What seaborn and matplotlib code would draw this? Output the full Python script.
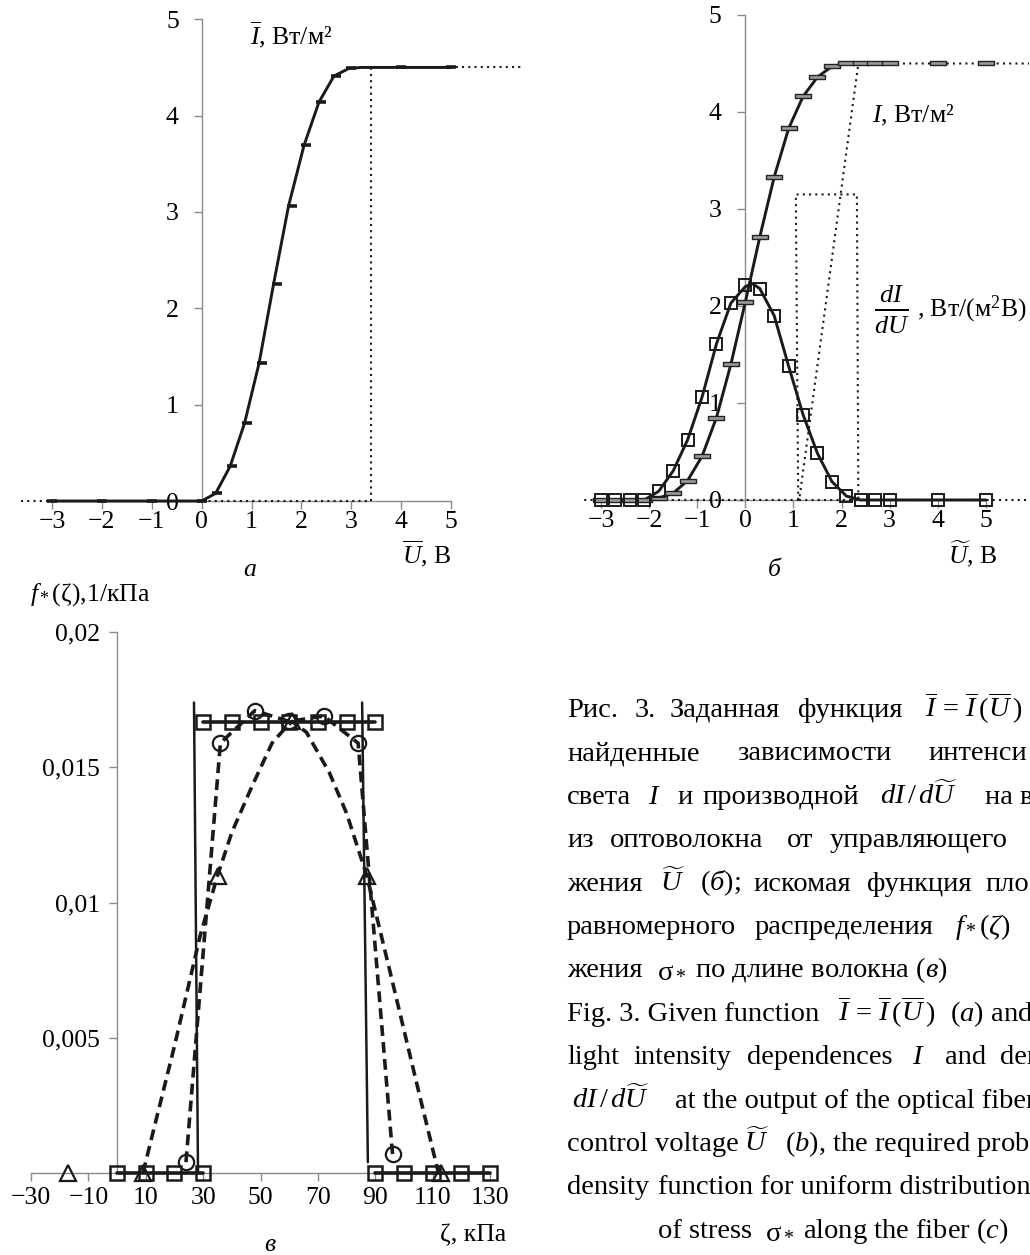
import matplotlib
matplotlib.use("Agg")
import matplotlib.pyplot as plt
import seaborn as sns
from matplotlib.path import Path

# ---- panel a : given function I(U)
ua = [-3, -2, -1, 0, 0.3, 0.6, 0.9, 1.2, 1.5, 1.8, 2.1, 2.4, 2.7, 3.0, 4, 5]
ia = [0, 0, 0, 0, 0.08, 0.36, 0.81, 1.43, 2.25, 3.06, 3.69, 4.14, 4.41, 4.49, 4.5, 4.5]
line_ua = [-3, -1, 0, 0.28, 0.57, 0.86, 1.15, 1.44, 1.74, 2.05, 2.35, 2.65, 2.95, 3.2, 5]
line_ia = [0, 0, 0, 0.08, 0.36, 0.81, 1.43, 2.25, 3.06, 3.69, 4.14, 4.41, 4.49, 4.5, 4.5]
dot_ua = [-3.62, 3.4, 3.4, 6.4]
dot_ia = [0, 0, 4.5, 4.5]

# ---- panel b : found I and dI/dU
ub = [-3, -2.7, -2.4, -2.1, -1.8, -1.5, -1.2, -0.9, -0.6, -0.3, 0, 0.3, 0.6, 0.9,
      1.2, 1.5, 1.8, 2.1, 2.4, 2.7, 3.0, 4, 5]
ib = [0, 0, 0, 0, 0.02, 0.07, 0.2, 0.45, 0.85, 1.4, 2.04, 2.71, 3.33, 3.83,
      4.16, 4.36, 4.47, 4.5, 4.5, 4.5, 4.5, 4.5, 4.5]
didu = [0, 0, 0, 0, 0.09, 0.3, 0.62, 1.06, 1.61, 2.03, 2.22, 2.18, 1.9, 1.38,
        0.88, 0.48, 0.19, 0.04, 0, 0, 0, 0, 0]
line_ub_i = [-2.1, -1.8, -1.5, -1.2, -0.9, -0.6, -0.3, 0, 0.3, 0.6, 0.9, 1.2, 1.5, 1.8, 2.1, 3.1]
line_ib = [0, 0.02, 0.07, 0.2, 0.45, 0.85, 1.4, 2.04, 2.71, 3.33, 3.83, 4.16, 4.36, 4.47, 4.5, 4.5]
line_ub_d = [-2.1, -1.8, -1.5, -1.2, -0.9, -0.6, -0.3, 0, 0.15, 0.3, 0.6, 0.9, 1.2, 1.5, 1.8, 2.1, 2.4, 5]
line_db = [0, 0.09, 0.3, 0.62, 1.06, 1.61, 2.03, 2.2, 2.23, 2.18, 1.9, 1.38, 0.88, 0.48, 0.19, 0.04, 0, 0]
dot_ub = [-3.35, 1.12, 2.35, 5.9, 1.12, 5.9, 1.1, 1.05, 2.32, 2.35]
dot_b = [0, 0, 4.5, 4.5, 0, 0, 0, 3.15, 3.15, 0]
dot_seg = [0, 0, 0, 0, 1, 1, 2, 2, 2, 2]

# ---- panel c : density f*(zeta)
f_u = 1 / 60
sq_z = [0, 10, 20, 30, 30, 40, 50, 60, 70, 80, 90, 90, 100, 110, 120, 130]
sq_f = [0, 0, 0, 0, f_u, f_u, f_u, f_u, f_u, f_u, f_u, 0, 0, 0, 0, 0]
sq_seg = [0, 0, 0, 0, 1, 1, 1, 1, 1, 1, 1, 2, 2, 2, 2, 2]
edge_z = [28.2, 26.8, 85.4, 87.4]
edge_f = [0, 0.0174, 0.0174, 0.0004]
edge_seg = [0, 0, 1, 1]
circ_z = [24, 36, 48, 60, 72, 84, 96]
circ_f = [0.0004, 0.0159, 0.0171, 0.0167, 0.0169, 0.0159, 0.0007]
tri_z = [-17, 9, 35, 61, 87, 113]
tri_f = [0, 0, 0.011, 0.0167, 0.011, 0]
tri_curve_z = [9, 20, 29, 35, 40, 47, 54, 59, 61, 66, 74, 80, 87, 95, 104, 112]
tri_curve_f = [0, 0.0047, 0.0088, 0.011, 0.0126, 0.0143, 0.0159, 0.0165, 0.0167,
               0.0163, 0.0148, 0.0133, 0.011, 0.0075, 0.0035, 0]

sns.set_theme(style="white")
plt.rcParams["font.family"] = ["Liberation Serif", "DejaVu Serif"]
plt.rcParams["mathtext.fontset"] = "custom"
plt.rcParams["mathtext.rm"] = "Liberation Serif"
plt.rcParams["mathtext.it"] = "Liberation Serif:italic"
plt.rcParams["mathtext.bf"] = "Liberation Serif:bold"

W, H = 1030, 1255
fig = plt.figure(figsize=(W / 100, H / 100), dpi=100)
fig.patch.set_facecolor("white")


def box(left, top, right, bottom):
    return [left / W, 1 - bottom / H, (right - left) / W, (bottom - top) / H]


def ftext(x, y, s, size=18.5, **kw):
    kw.setdefault("va", "baseline")
    fig.text(x / W, 1 - y / H, s, fontsize=size, ha="left", color="black", **kw)


def style(ax, xb, yb, ypad, xpad):
    ax.set_facecolor("none")
    ax.grid(False)
    ax.spines["top"].set_visible(False)
    ax.spines["right"].set_visible(False)
    ax.spines["left"].set_position(("data", 0))
    ax.spines["bottom"].set_position(("data", 0))
    ax.spines["left"].set_bounds(*yb)
    ax.spines["bottom"].set_bounds(*xb)
    for s in ["left", "bottom"]:
        ax.spines[s].set_color("#8a8a8a")
        ax.spines[s].set_linewidth(1)
        ax.spines[s].set_zorder(0.5)
    ax.tick_params(axis="both", direction="out", length=6, width=1, color="#8a8a8a",
                   labelsize=18.5, labelcolor="black", bottom=True, left=True)
    ax.tick_params(axis="y", pad=ypad)
    ax.tick_params(axis="x", pad=xpad)
    ax.set_xlabel("")
    ax.set_ylabel("")


dotted = (0, (1, 2))

# ---------- panel a
ax_a = fig.add_axes(box(17.1, 0, 521, 512.6))
sns.lineplot(x=dot_ua, y=dot_ia, sort=False, estimator=None, color="k", lw=1.5,
             linestyle=dotted, ax=ax_a)
sns.lineplot(x=line_ua, y=line_ia, sort=False, estimator=None, color="k", lw=2.1, ax=ax_a)
sns.lineplot(x=ua, y=ia, sort=False, estimator=None, color="k", linestyle="none",
             marker="_", ms=7, mew=2.6, mec="k", ax=ax_a)
ax_a.set_xlim(-3.7, 6.4)
ax_a.set_ylim(-0.12, 5.2)
ax_a.set_xticks(range(-3, 6))
ax_a.set_yticks(range(0, 6))
style(ax_a, (-3, 5), (0, 5), 10.5, 1)

# ---------- panel b
ax_b = fig.add_axes(box(581.8, 5.3, 1029.1, 511.6))
sns.lineplot(x=dot_ub, y=dot_b, units=dot_seg, sort=False, estimator=None, color="k",
             lw=1.5, linestyle=dotted, ax=ax_b)
sns.lineplot(x=line_ub_i, y=line_ib, sort=False, estimator=None, color="k", lw=2.1, ax=ax_b)
sns.lineplot(x=line_ub_d, y=line_db, sort=False, estimator=None, color="k", lw=2.1, ax=ax_b)
bar = Path([(-1, -0.32), (1, -0.32), (1, 0.32), (-1, 0.32), (-1, -0.32)],
           [Path.MOVETO, Path.LINETO, Path.LINETO, Path.LINETO, Path.CLOSEPOLY])
sns.lineplot(x=ub, y=ib, sort=False, estimator=None, color="k", linestyle="none",
             marker=bar, ms=11, mfc="#9a9a9a", mec="#222222", mew=1, ax=ax_b)
sns.lineplot(x=ub, y=didu, sort=False, estimator=None, color="k", linestyle="none",
             marker="s", ms=8.5, mfc="none", mec="k", mew=1.4, ax=ax_b)
ax_b.set_xlim(-3.4, 5.9)
ax_b.set_ylim(-0.12, 5.1)
ax_b.set_xticks(range(-3, 6))
ax_b.set_yticks(range(0, 6))
style(ax_b, (-3, 5), (0, 5), 11, 1)

# ---------- panel c
ax_c = fig.add_axes(box(25.3, 616, 507.3, 1189.2))
sns.lineplot(x=edge_z, y=edge_f, units=edge_seg, sort=False, estimator=None, color="k",
             lw=1.8, ax=ax_c)
sns.lineplot(x=sq_z, y=sq_f, units=sq_seg, sort=False, estimator=None, color="k",
             lw=2.6, ax=ax_c)
sns.lineplot(x=sq_z, y=sq_f, sort=False, estimator=None, color="k", linestyle="none",
             marker="s", ms=10.5, mfc="none", mec="k", mew=1.8, ax=ax_c)
sns.lineplot(x=tri_curve_z, y=tri_curve_f, sort=False, estimator=None, color="k",
             lw=2.6, linestyle=(0, (3, 1.7)), ax=ax_c)
sns.lineplot(x=circ_z, y=circ_f, sort=False, estimator=None, color="k",
             lw=2.6, linestyle=(0, (3, 1.7)), ax=ax_c)
sns.lineplot(x=circ_z, y=circ_f, sort=False, estimator=None, color="k", linestyle="none",
             marker="o", ms=11, mfc="none", mec="k", mew=1.6, ax=ax_c)
sns.lineplot(x=tri_z, y=tri_f, sort=False, estimator=None, color="k", linestyle="none",
             marker="^", ms=11, mfc="none", mec="k", mew=1.6, ax=ax_c)
ax_c.set_xlim(-32, 136)
ax_c.set_ylim(-0.0006, 0.0206)
ax_c.set_xticks(range(-30, 131, 20))
ax_c.set_xticklabels([str(v).replace("-", "\u2212") for v in range(-30, 131, 20)])
ax_c.set_yticks([0.005, 0.01, 0.015, 0.02])
ax_c.set_yticklabels(["0,005", "0,01", "0,015", "0,02"])
style(ax_c, (-30, 130), (0, 0.02), 6.5, 4)

# ---------- axis captions
ftext(250, 44, r"$\overline{I}$, Вт/м²")
ftext(402, 563, r"$\overline{U}$, В")
ftext(243, 576, "а", style="italic")
ftext(872, 122, r"$I$, Вт/м²")
ftext(874, 309, r"$\frac{dI}{dU}$", size=27, va="center")
ftext(917, 316, ", Вт/(м$^2$В)")
ftext(948, 563, r"$\widetilde{U}$, В")
ftext(768, 576, "б", style="italic")
ftext(30, 601, r"$f_*$(ζ),1/кПа")
ftext(440, 1241, "ζ, кПа")
ftext(264, 1251, "в", style="italic")

# ---------- figure caption (cropped on the right like the source page)
given = r"$\overline{I}\,=\,\overline{I}\,(\overline{U}\,)$"
caption = [
    [(567, "Рис."), (635, "3."), (670, "Заданная"), (798, "функция"), (925, given)],
    [(567, "найденные"), (737, "зависимости"), (928, "интенси")],
    [(567, "света"), (648, r"$I$"), (677, "и"), (702, "производной"),
     (880, r"$dI\,/\,d\widetilde{U}$"), (985, "на в")],
    [(567, "из"), (610, "оптоволокна"), (787, "от"), (830, "управляющего")],
    [(567, "жения"), (660, r"$\widetilde{U}$"), (700, r"($\mathit{б}$);"), (753, "искомая"),
     (867, "функция"), (985, "пло")],
    [(567, "равномерного"), (755, "распределения"), (955, r"$f_*(\zeta)$")],
    [(567, "жения"), (657, r"$\mathrm{\sigma}_*$"), (695, r"по длине волокна ($\mathit{в}$)")],
    [(567, "Fig. 3. Given function"), (838, given), (950, r"($\mathit{a}$) and")],
    [(567, "light"), (633, "intensity"), (747, "dependences"), (912, r"$I$"),
     (945, "and"), (1000, "der")],
    [(572, r"$dI\,/\,d\widetilde{U}$"), (675, "at the output of the optical fiber")],
    [(567, "control voltage"), (744, r"$\widetilde{U}$"),
     (785, r"($\mathit{b}$), the required prob")],
    [(567, "density"), (658, "function for uniform distribution")],
    [(658, "of stress"), (765, r"$\mathrm{\sigma}_*$"), (803, r"along the fiber ($\mathit{c}$)")],
]
for i, parts in enumerate(caption):
    y = 717 + 43.4 * i
    for x, s in parts:
        ftext(x, y, s, size=20.5)

fig.savefig("out.png", dpi=100, facecolor="white")
